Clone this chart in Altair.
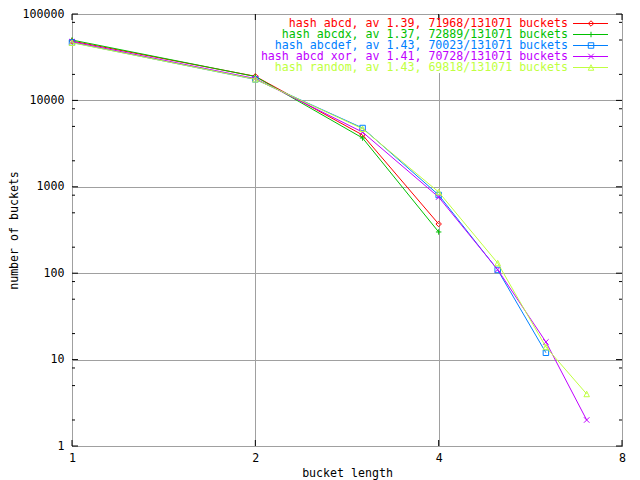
import altair as alt
import pandas as pd

# ---- data ----
bucket_len = [1, 2, 3, 4, 5, 6, 7]
names = ["hash abcd", "hash abcdx", "hash abcdef", "hash abcd xor", "hash random"]
avgs = ["1.39", "1.37", "1.43", "1.41", "1.43"]
used = [71968, 72889, 70023, 70728, 69818]
total = 131071
abcd = [48600, 19000, 3980, 371]
abcdx = [50000, 18900, 3670, 300]
abcdef = [46800, 17500, 4790, 804, 109, 12]
abcd_xor = [47700, 17900, 4290, 760, 110, 16, 2]
rnd = [46500, 17550, 4700, 870, 131, 14, 4]
series_values = [abcd, abcdx, abcdef, abcd_xor, rnd]

x_ticks = [1, 2, 4, 8]
y_ticks = [1, 10, 100, 1000, 10000, 100000]
y_minor = [m * 10 ** d for d in range(5) for m in (2, 5, 8)]

colors = ["#ff0000", "#00c000", "#0080ff", "#c000ff", "#c0ff40"]
shapes = [
    "M0,-1L1,0L0,1L-1,0Z",
    "M-1,0L1,0M0,-1L0,1",
    "M-1,-1L1,-1L1,1L-1,1Z",
    "M-1,-1L1,1M-1,1L1,-1",
    "M0,-1L1,1L-1,1Z",
]

FONT = "DejaVu Sans Mono"
FS = 11.6
W, H = 550, 432

xscale = alt.Scale(type="log", domain=[1, 8], nice=False)
yscale = alt.Scale(type="log", domain=[1, 100000], nice=False)
xaxis = alt.Axis(values=x_ticks, format="d", grid=True, gridColor="#a0a0a0", gridWidth=1,
                 ticks=False, tickSize=0, domain=False, labelFlush=False, labelOverlap=False,
                 labelBaseline="middle", labelPadding=12, labelFont=FONT, labelFontSize=FS,
                 labelColor="black", titleFont=FONT, titleFontSize=FS, titleFontWeight="normal",
                 titleColor="black", titleX=275, titleY=27, titleBaseline="middle",
                 titleAlign="center")
yaxis = alt.Axis(values=y_ticks, format="d", grid=True, gridColor="#a0a0a0", gridWidth=1,
                 ticks=False, tickSize=0, domain=False, labelFlush=False, labelOverlap=False,
                 labelBaseline="middle", labelAlign="right", labelPadding=8, labelFont=FONT,
                 labelFontSize=FS, labelColor="black", titleFont=FONT, titleFontSize=FS,
                 titleFontWeight="normal", titleColor="black", titleX=-58, titleY=216,
                 titleAngle=-90, titleBaseline="middle", titleAlign="center")

XT = "bucket length"
YT = "number of buckets"

def xenc(field):
    return alt.X(field, type="quantitative", scale=xscale, axis=xaxis, title=XT)

def yenc(field):
    return alt.Y(field, type="quantitative", scale=yscale, axis=yaxis, title=YT)

layers = []

# white box behind the key
one = alt.Data(values=[{"k": 0}])
layers.append(alt.Chart(one).mark_rect(color="white").encode(
    x=alt.value(186), x2=alt.value(543), y=alt.value(5), y2=alt.value(59)))

# tick marks (inward, mirrored)
ymaj = pd.DataFrame({"v": y_ticks})
ymin = pd.DataFrame({"v": y_minor})
xmaj = pd.DataFrame({"v": x_ticks})
for df, ln in ((ymaj, 6), (ymin, 3)):
    layers.append(alt.Chart(df).mark_rule(color="black", strokeWidth=1).encode(
        y=yenc("v"), x=alt.value(0), x2=alt.value(ln)))
    layers.append(alt.Chart(df).mark_rule(color="black", strokeWidth=1).encode(
        y=yenc("v"), x=alt.value(W - ln), x2=alt.value(W)))
layers.append(alt.Chart(xmaj).mark_rule(color="black", strokeWidth=1).encode(
    x=xenc("v"), y=alt.value(H - 6), y2=alt.value(H)))
layers.append(alt.Chart(xmaj).mark_rule(color="black", strokeWidth=1).encode(
    x=xenc("v"), y=alt.value(0), y2=alt.value(6)))

# data series
for i, vals in enumerate(series_values):
    df = pd.DataFrame({"len": bucket_len[:len(vals)], "count": vals})
    base = alt.Chart(df)
    layers.append(base.mark_line(color=colors[i], strokeWidth=1).encode(
        x=xenc("len"), y=yenc("count")))
    layers.append(base.mark_point(shape=shapes[i], filled=False, color=colors[i],
                                  strokeWidth=1, size=30, opacity=1).encode(
        x=xenc("len"), y=yenc("count")))

# key
for i in range(len(names)):
    label = f"{names[i]}, av {avgs[i]}, {used[i]}/{total} buckets"
    ky = 9.5 + 11 * i
    d = alt.Data(values=[{"label": label}])
    layers.append(alt.Chart(d).mark_text(align="right", baseline="middle", font=FONT,
                                         fontSize=FS, color=colors[i]).encode(
        x=alt.value(496), y=alt.value(ky), text="label:N"))
    layers.append(alt.Chart(d).mark_rule(color=colors[i], strokeWidth=1).encode(
        x=alt.value(501), x2=alt.value(536), y=alt.value(ky)))
    layers.append(alt.Chart(d).mark_point(shape=shapes[i], filled=False, color=colors[i],
                                          strokeWidth=1, size=30, opacity=1).encode(
        x=alt.value(519), y=alt.value(ky)))

chart = alt.layer(*layers).properties(
    width=W, height=H,
    autosize=alt.AutoSizeParams(type="none"),
    padding={"left": 64, "top": 6, "right": 10, "bottom": 34},
    background="white",
).configure_view(stroke="black", strokeWidth=1)

chart.save("out.html", embed_options={"renderer": "svg", "actions": False})
